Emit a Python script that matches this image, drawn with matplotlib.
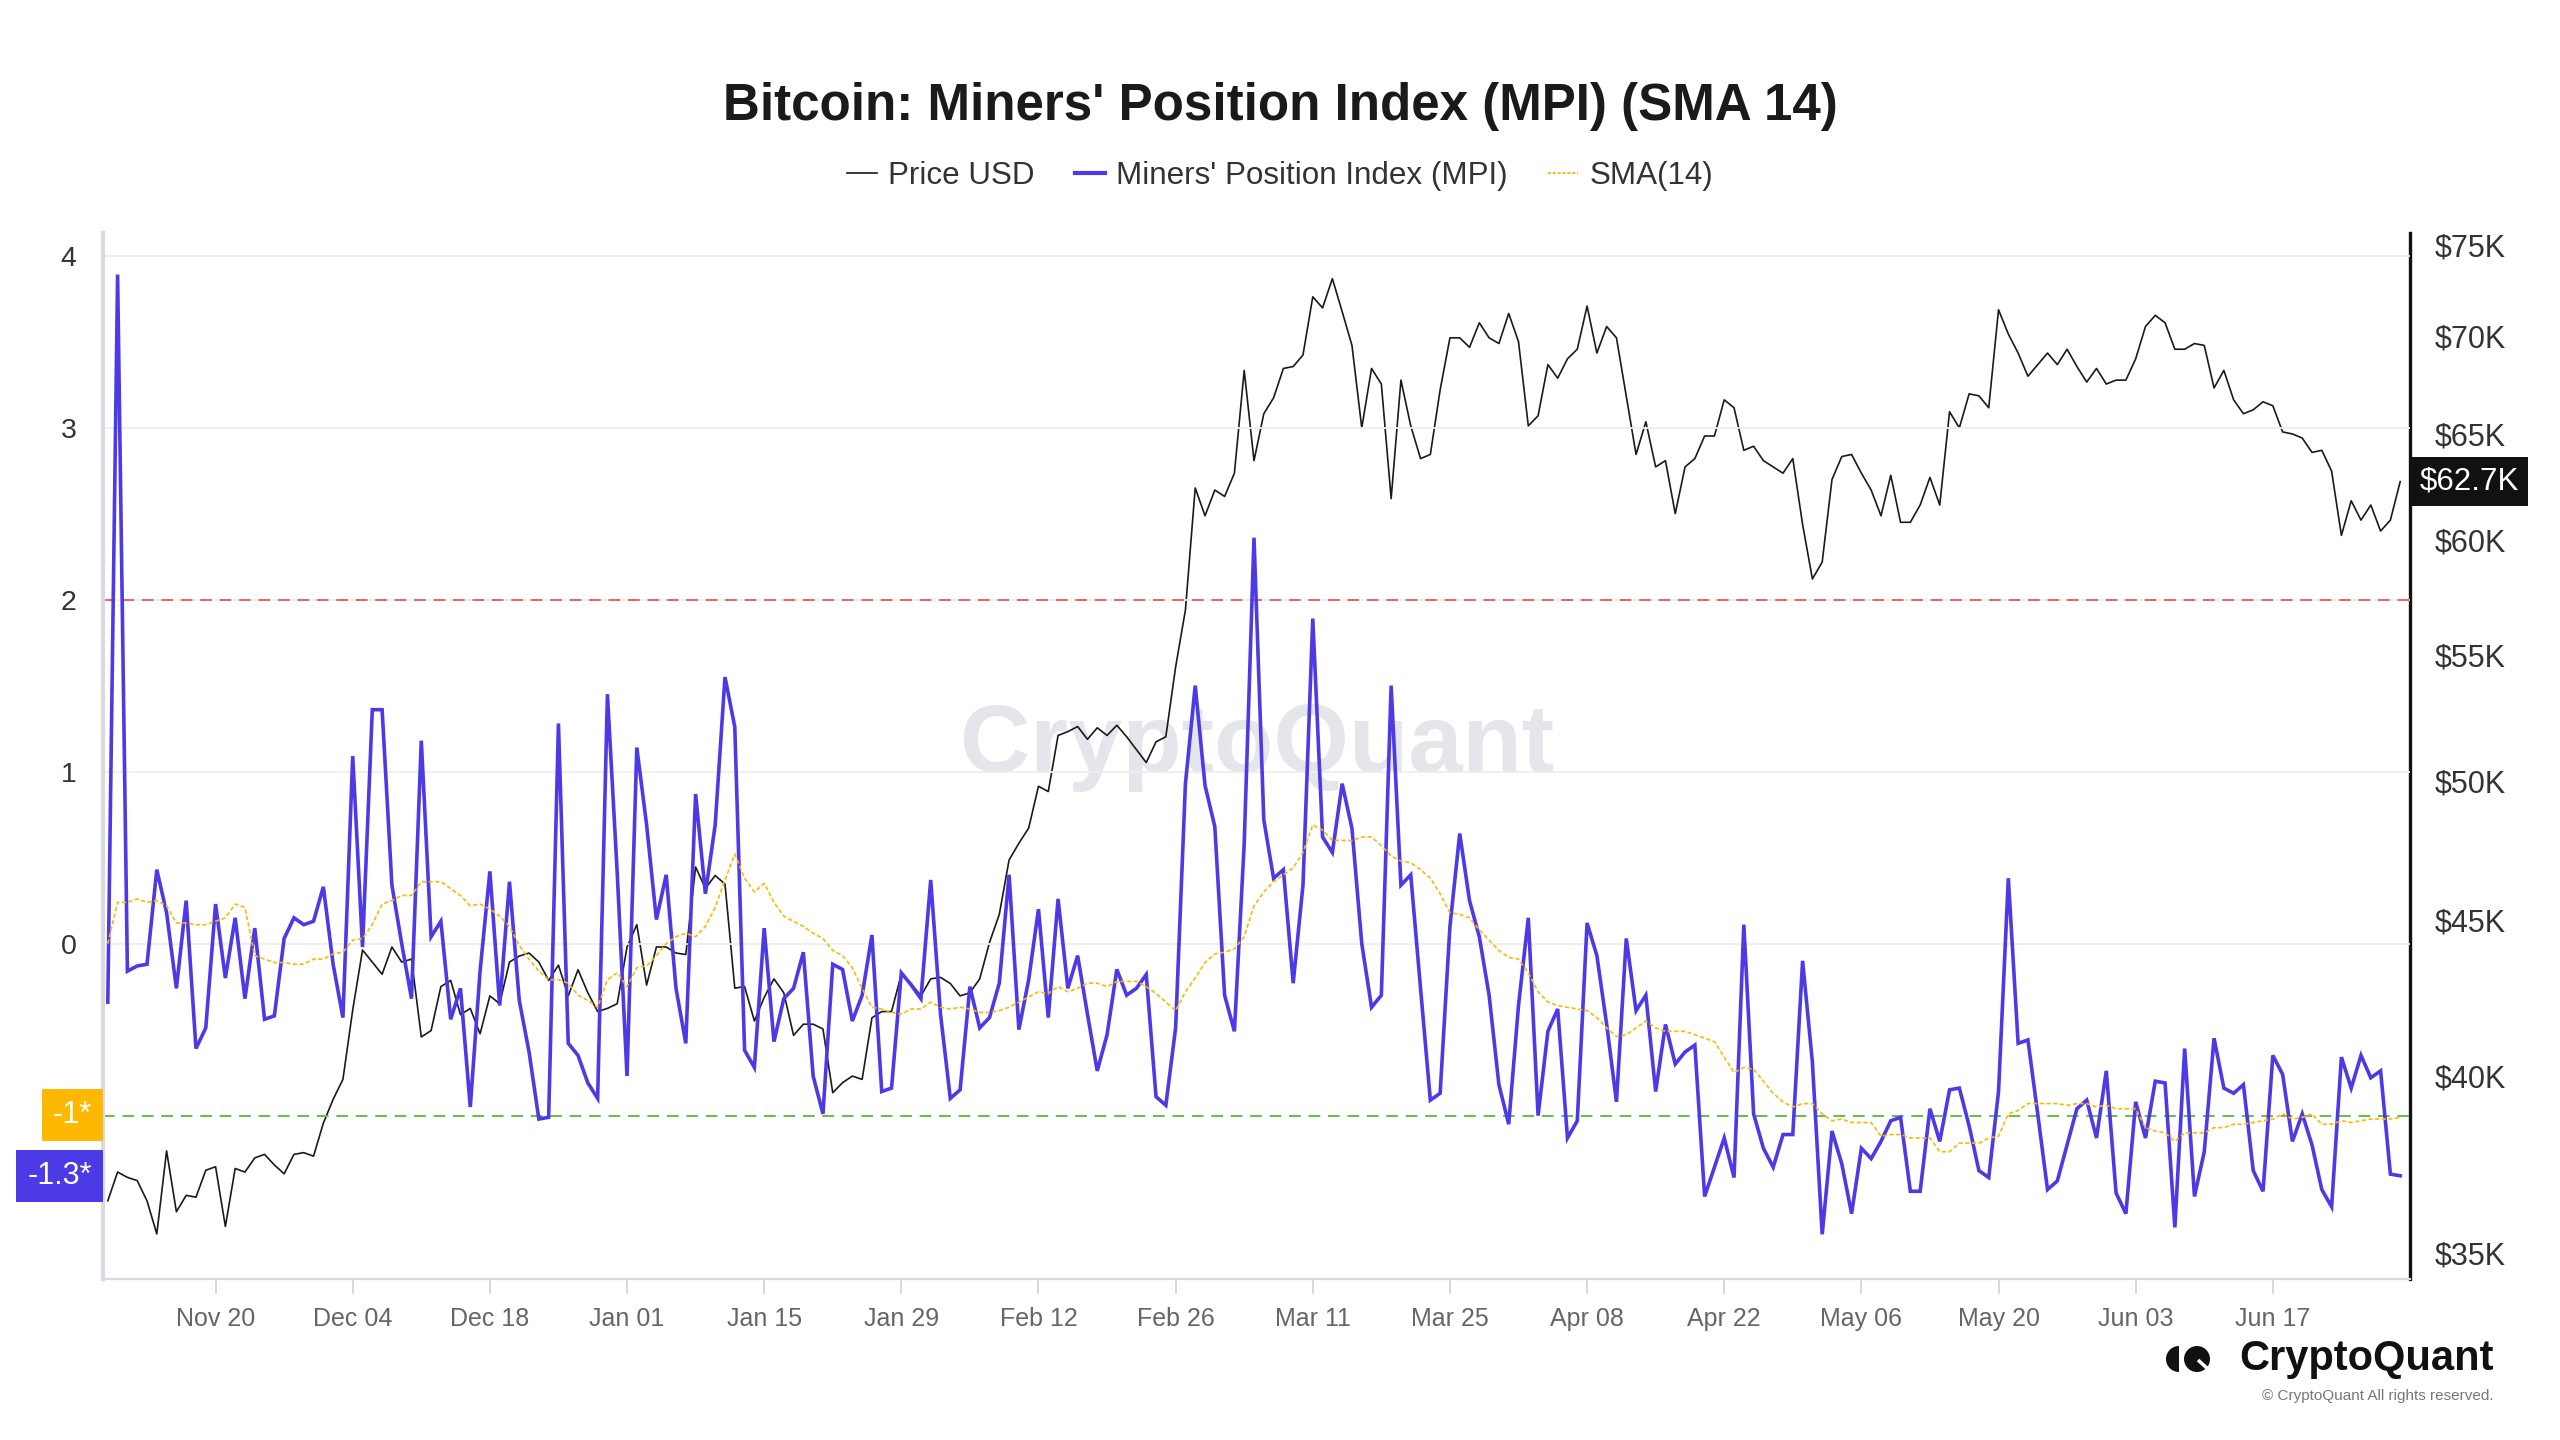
import matplotlib.pyplot as plt
import matplotlib.dates as mdates
from matplotlib.lines import Line2D
from matplotlib.patches import Wedge, Circle
from matplotlib.ticker import NullLocator
import pandas as pd

plt.rcParams['font.family'] = ['Liberation Sans', 'DejaVu Sans']

# daily values, Nov 09 2023 .. Jun 30 2024
dates = pd.date_range("2023-11-09", "2024-06-30", freq="D")

mpi = [
    -0.34, 3.89, -0.16, -0.13, -0.12, 0.43, 0.18, -0.26, 0.25, -0.61, -0.49, 0.23, -0.20, 0.15, -0.32, 0.09, -0.44, -0.42, 0.03, 0.15, 0.11, 0.13,
    0.33, -0.12, -0.43, 1.09, -0.02, 1.36, 1.36, 0.34, 0.00, -0.32, 1.18, 0.04, 0.13, -0.44, -0.26, -0.95, -0.16, 0.42, -0.36, 0.36, -0.33, -0.63, -1.02, -1.01, 1.28, -0.58, -0.65, -0.81, -0.90, 1.45, 0.41,
    -0.77, 1.14, 0.69, 0.14, 0.40, -0.26, -0.58, 0.87, 0.29, 0.69, 1.55, 1.26, -0.62, -0.72, 0.09, -0.57, -0.32, -0.26, -0.05, -0.77, -0.99, -0.12, -0.15, -0.45, -0.30, 0.05, -0.86, -0.84, -0.17, -0.24, -0.32,
    0.37, -0.41, -0.90, -0.85, -0.25, -0.49, -0.43, -0.23, 0.40, -0.50, -0.21, 0.20, -0.43, 0.26, -0.26, -0.07, -0.41, -0.74, -0.53, -0.15, -0.30, -0.26, -0.18, -0.89, -0.94, -0.49, 0.93, 1.50, 0.92,
    0.68, -0.30, -0.51, 0.58, 2.36, 0.72, 0.38, 0.43, -0.23, 0.34, 1.89, 0.62, 0.53, 0.93, 0.67, 0.00, -0.37, -0.30, 1.50, 0.34, 0.40, -0.26, -0.91, -0.87, 0.10, 0.64, 0.25, 0.04, -0.30, -0.82, -1.05,
    -0.36, 0.15, -1.00, -0.51, -0.38, -1.13, -1.03, 0.12, -0.07, -0.47, -0.92, 0.03, -0.39, -0.30, -0.86, -0.47, -0.70, -0.63, -0.59, -1.47, -1.30, -1.13, -1.36, 0.11, -0.99, -1.19, -1.30, -1.11, -1.11, -0.10,
    -0.69, -1.69, -1.09, -1.28, -1.57, -1.19, -1.25, -1.15, -1.03, -1.01, -1.44, -1.44, -0.96, -1.15, -0.85, -0.84, -1.06, -1.32, -1.36, -0.86, 0.38, -0.58, -0.56, -0.99, -1.43, -1.38, -1.17, -0.96, -0.91, -1.13, -0.74,
    -1.45, -1.57, -0.92, -1.13, -0.80, -0.81, -1.65, -0.61, -1.47, -1.21, -0.55, -0.84, -0.87, -0.82, -1.32, -1.44, -0.65, -0.76, -1.15, -0.99, -1.17, -1.43, -1.53, -0.66, -0.84, -0.65, -0.78, -0.74, -1.34, -1.35,
]

sma14 = [
    0.00, 0.24, 0.24, 0.26, 0.24, 0.25, 0.22, 0.12, 0.12, 0.11, 0.11, 0.13, 0.15, 0.23, 0.21, -0.07, -0.09, -0.11, -0.11, -0.12, -0.12, -0.09,
    -0.09, -0.06, -0.05, 0.02, 0.03, 0.11, 0.23, 0.25, 0.28, 0.28, 0.36, 0.36, 0.36, 0.32, 0.28, 0.22, 0.23, 0.20, 0.16, 0.10, -0.01, -0.09, -0.16, -0.21, -0.21, -0.23, -0.30, -0.33, -0.37, -0.21, -0.17,
    -0.25, -0.14, -0.13, -0.07, 0.00, 0.04, 0.06, 0.04, 0.10, 0.21, 0.37, 0.52, 0.38, 0.30, 0.35, 0.24, 0.16, 0.13, 0.10, 0.06, 0.03, -0.04, -0.07, -0.14, -0.26, -0.37, -0.38, -0.40, -0.41, -0.38, -0.38,
    -0.34, -0.37, -0.38, -0.37, -0.38, -0.40, -0.40, -0.39, -0.37, -0.34, -0.31, -0.28, -0.29, -0.25, -0.28, -0.26, -0.23, -0.23, -0.25, -0.22, -0.22, -0.22, -0.25, -0.29, -0.34, -0.39, -0.28, -0.20, -0.11,
    -0.06, -0.05, -0.03, 0.04, 0.22, 0.30, 0.36, 0.40, 0.44, 0.53, 0.69, 0.66, 0.60, 0.60, 0.60, 0.62, 0.62, 0.57, 0.51, 0.48, 0.47, 0.43, 0.38, 0.29, 0.18, 0.17, 0.15, 0.08, 0.02, -0.04, -0.08,
    -0.09, -0.17, -0.28, -0.34, -0.36, -0.37, -0.38, -0.39, -0.43, -0.49, -0.54, -0.53, -0.49, -0.45, -0.49, -0.51, -0.51, -0.51, -0.53, -0.55, -0.57, -0.66, -0.75, -0.72, -0.73, -0.80, -0.87, -0.92, -0.95, -0.93,
    -0.93, -0.99, -1.03, -1.02, -1.04, -1.04, -1.04, -1.12, -1.11, -1.11, -1.13, -1.13, -1.13, -1.21, -1.21, -1.16, -1.16, -1.16, -1.13, -1.12, -0.99, -0.97, -0.93, -0.93, -0.93, -0.93, -0.94, -0.93, -0.93, -0.95, -0.94,
    -0.96, -0.96, -0.96, -1.07, -1.09, -1.10, -1.15, -1.10, -1.10, -1.10, -1.07, -1.07, -1.05, -1.05, -1.04, -1.03, -1.02, -0.99, -1.02, -1.01, -0.99, -1.05, -1.05, -1.03, -1.04, -1.03, -1.02, -1.02, -1.02, -1.01,
]

# price in thousands of USD
price_k = [
    36.4, 37.2, 37.05, 36.96, 36.4, 35.5, 37.8, 36.1, 36.55, 36.5, 37.25, 37.35, 35.7, 37.3, 37.2, 37.6, 37.7, 37.4, 37.15, 37.7, 37.75, 37.65,
    38.6, 39.3, 39.9, 42.05, 44.0, 43.6, 43.2, 44.1, 43.6, 43.7, 41.2, 41.4, 42.8, 43.0, 41.9, 42.1, 41.3, 42.5, 42.25, 43.6, 43.8, 43.9, 43.6, 43.0, 43.5, 42.5, 43.35, 42.6, 42.0, 42.1, 42.25,
    44.1, 44.85, 42.85, 44.1, 44.1, 43.9, 43.85, 46.85, 46.1, 46.55, 46.25, 42.75, 42.8, 41.7, 42.45, 43.05, 42.6, 41.25, 41.6, 41.6, 41.45, 39.5, 39.8, 40.0, 39.9, 41.8, 42.0, 42.0, 43.2, 42.9, 42.5,
    43.05, 43.1, 42.9, 42.5, 42.6, 43.05, 44.25, 45.2, 47.1, 47.7, 48.25, 49.8, 49.6, 51.75, 51.9, 52.1, 51.6, 52.05, 51.75, 52.15, 51.7, 51.2, 50.7, 51.5, 51.7, 54.5, 56.9, 62.4, 61.1,
    62.3, 62.0, 63.1, 68.2, 63.7, 66.0, 66.8, 68.3, 68.4, 69.0, 72.1, 71.5, 73.1, 71.3, 69.5, 65.3, 68.3, 67.5, 61.9, 67.7, 65.4, 63.8, 64.0, 67.2, 69.9, 69.9, 69.4, 70.7, 69.9, 69.6, 71.2,
    69.7, 65.4, 65.9, 68.5, 67.8, 68.8, 69.3, 71.6, 69.1, 70.5, 69.9, 66.9, 64.0, 65.6, 63.4, 63.7, 61.2, 63.4, 63.8, 64.9, 64.9, 66.7, 66.3, 64.2, 64.4, 63.7, 63.4, 63.1, 63.8, 60.7,
    58.25, 59.0, 62.8, 63.9, 64.0, 63.1, 62.3, 61.1, 63.0, 60.8, 60.8, 61.6, 62.9, 61.6, 66.1, 65.3, 67.0, 66.9, 66.3, 71.4, 70.1, 69.1, 67.9, 68.5, 69.1, 68.5, 69.3, 68.4, 67.6, 68.3, 67.5,
    67.7, 67.7, 68.8, 70.5, 71.1, 70.7, 69.3, 69.3, 69.6, 69.5, 67.3, 68.2, 66.7, 66.0, 66.2, 66.6, 66.4, 65.1, 65.0, 64.8, 64.1, 64.2, 63.2, 60.2, 61.8, 60.9, 61.6, 60.4, 60.9, 62.7,
]

tick_dates = pd.date_range("2023-11-20", "2024-06-17", freq="14D")
left_ticks = [0, 1, 2, 3, 4]
right_ticks = [35, 40, 45, 50, 55, 60, 65, 70, 75]
upper_level = 2
lower_level = -1
mpi_tag = "-1.3*"
sma_tag = "-1*"

purple = "#4B3AE6"
orange = "#FFB800"

fig = plt.figure(figsize=(25.6, 14.4), dpi=100)
fig.patch.set_facecolor("white")

ax = fig.add_axes([0.0402, 0.1118, 0.9012, 0.7262])
ax2 = ax.twinx()
ax.set_zorder(ax2.get_zorder() + 1)
ax.patch.set_visible(False)
ax2.patch.set_visible(False)

# watermark
fig.text(0.491, 0.481, "CryptoQuant", fontsize=70, fontweight="bold",
         color="#e5e5ec", ha="center", va="center", zorder=-5)

# price on right log axis
ax2.plot(dates, price_k, color="#1a1a1a", lw=1.2)
ax2.set_yscale("log")
ax2.set_ylim(34.31, 75.65)
ax2.set_yticks(right_ticks)
ax2.set_yticklabels(["$%dK" % t for t in right_ticks])
ax2.yaxis.set_minor_locator(NullLocator())
ax2.tick_params(axis="y", length=0, pad=18, labelsize=22, labelcolor="#333333")
for s in ["left", "top", "bottom"]:
    ax2.spines[s].set_visible(False)
ax2.spines["right"].set_color("#111111")
ax2.spines["right"].set_linewidth(2.4)

# MPI + SMA on left axis
ax.axhline(upper_level, color="#F06262", lw=1.4, ls=(0, (6, 4)))
ax.axhline(lower_level, color="#62C043", lw=1.4, ls=(0, (6, 4)))
ax.plot(dates, mpi, color=purple, lw=2.6, solid_joinstyle="miter")
ax.plot(dates, sma14, color=orange, lw=1.2, ls=(0, (2.5, 1.5)))

ax.set_ylim(-1.95, 4.13)
ax.set_yticks(left_ticks)
ax.grid(axis="y", color="#eeeeee", lw=1.3)
ax.set_axisbelow(True)
ax.tick_params(axis="y", length=0, pad=19, labelsize=20.5, labelcolor="#333333")

ax.set_xlim(pd.Timestamp("2023-11-08 12:00"), pd.Timestamp("2024-07-01"))
ax.set_xticks(tick_dates)
ax.xaxis.set_major_formatter(mdates.DateFormatter("%b %d"))
ax.tick_params(axis="x", length=11, width=1.3, color="#d4d4dc", pad=9,
               labelsize=18, labelcolor="#666666")
ax.spines["top"].set_visible(False)
ax.spines["right"].set_visible(False)
ax.spines["left"].set_color("#dadae2")
ax.spines["left"].set_linewidth(3)
ax.spines["bottom"].set_color("#d9d9e0")
ax.spines["bottom"].set_linewidth(1.6)

# last-value tags
ax.annotate(sma_tag, xy=(0, sma14[-1]), xycoords=("axes fraction", "data"),
            xytext=(-8, 1.5), textcoords="offset points", ha="right", va="center",
            fontsize=22, color="white", annotation_clip=False,
            bbox=dict(boxstyle="square,pad=0.36", fc=orange, ec="none"))
ax.annotate(mpi_tag, xy=(0, mpi[-1]), xycoords=("axes fraction", "data"),
            xytext=(-8, 0), textcoords="offset points", ha="right", va="center",
            fontsize=22, color="white", annotation_clip=False,
            bbox=dict(boxstyle="square,pad=0.36", fc=purple, ec="none"))
ax2.annotate("$%.1fK" % price_k[-1], xy=(1, price_k[-1]), xycoords=("axes fraction", "data"),
             xytext=(7, 0), textcoords="offset points", ha="left", va="center",
             fontsize=22.5, color="white", annotation_clip=False,
             bbox=dict(boxstyle="square,pad=0.3", fc="#111111", ec="none"))

# title and legend
fig.text(0.5, 0.926, "Bitcoin: Miners' Position Index (MPI) (SMA 14)",
         ha="center", va="center", fontsize=36.8, fontweight="bold", color="#1a1a1a")
handles = [Line2D([], [], color="#1a1a1a", lw=1.2),
           Line2D([], [], color=purple, lw=3),
           Line2D([], [], color=orange, lw=1.4, ls=(0, (1.5, 1)))]
labels = ["Price USD", "Miners' Position Index (MPI)", "SMA(14)"]
fig.legend(handles, labels, loc="center", bbox_to_anchor=(0.5, 0.878), ncol=3,
           frameon=False, fontsize=22.6, handlelength=0.95, handletextpad=0.35,
           columnspacing=1.3, labelcolor="#333333")

# logo bottom right
logo = fig.add_axes([2163 / 2560, 1 - 1374 / 1440, 62 / 2560, 30 / 1440])
logo.set_xlim(0, 62)
logo.set_ylim(0, 30)
logo.axis("off")
logo.add_patch(Wedge((16, 15), 13, 90, 270, fc="#111111", ec="none"))
logo.add_patch(Circle((34, 15), 13, fc="#111111", ec="none"))
logo.plot([35, 46], [14, 4], color="white", lw=2.5, solid_capstyle="butt")

fig.text(0.974, 0.0563, "CryptoQuant", ha="right", va="center",
         fontsize=30, fontweight="bold", color="#111111")
fig.text(0.974, 0.0306, "\u00a9 CryptoQuant All rights reserved.", ha="right",
         va="center", fontsize=11, color="#777777")

fig.savefig("out.png", dpi=100)
